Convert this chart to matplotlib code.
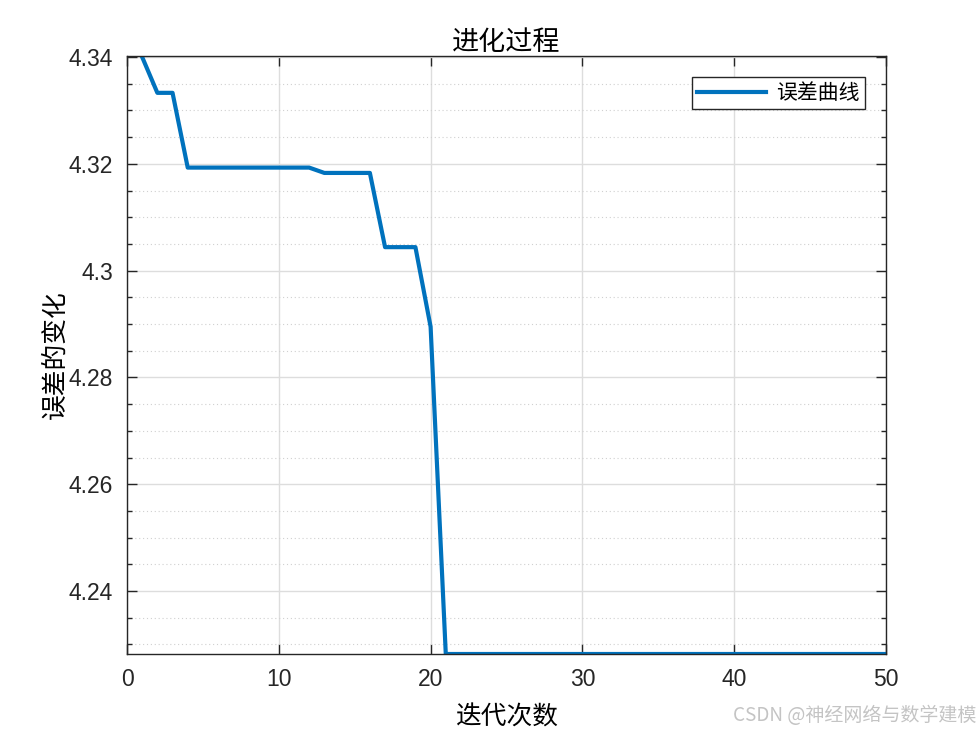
import matplotlib
matplotlib.use('Agg')
import matplotlib.pyplot as plt
from matplotlib.ticker import MultipleLocator

plt.rcParams['font.family'] = ['Liberation Sans', 'Noto Sans CJK SC', 'DejaVu Sans']

# iteration number and best error per iteration
iters = list(range(1, 51))
err = ([4.3400, 4.3333, 4.3333] + [4.3193] * 9 + [4.3183] * 4 +
       [4.3044] * 3 + [4.2895] + [4.2282] * 30)

title = '进化过程'
xlab = '迭代次数'
ylab = '误差的变化'
leg = '误差曲线'
cjk = ['Noto Sans CJK SC', 'DejaVu Sans']

fig = plt.figure(figsize=(9.8, 7.35), dpi=100)
ax = fig.add_axes([127/980, 1-654/735, (886-127)/980, (654-56)/735])

ax.plot(iters, err, color='#0072BD', lw=3, label=leg)

ax.set_xlim(0, 50)
ax.set_ylim(4.2282, 4.3402)
ax.xaxis.set_major_locator(MultipleLocator(10))
ax.yaxis.set_major_locator(MultipleLocator(0.02))
ax.yaxis.set_minor_locator(MultipleLocator(0.005))

def fmt(v, pos):
    s = '%.2f' % v
    return s.rstrip('0').rstrip('.')
ax.yaxis.set_major_formatter(plt.FuncFormatter(fmt))

ax.grid(which='major', color='#dddddd', lw=1)
ax.grid(which='minor', axis='y', color='#d0d0d0', lw=0.8, ls=(0, (1, 2.5)))
ax.tick_params(which='both', direction='in', top=True, right=True,
               labelsize=16.5, colors='#262626', width=1)
ax.tick_params(which='major', length=7, pad=10)
ax.tick_params(which='minor', length=3.5)
for s in ax.spines.values():
    s.set_color('#262626')
    s.set_linewidth(1)

ax.set_title(title, fontsize=19.5, family=cjk, pad=3)
ax.set_xlabel(xlab, fontsize=18.5, family=cjk, labelpad=10)
ax.set_ylabel(ylab, fontsize=18.5, family=cjk, labelpad=0)

lg = ax.legend(loc='upper right', prop={'family': cjk, 'size': 15},
               fancybox=False, edgecolor='#262626', framealpha=1,
               handlelength=3.3, borderaxespad=1.0, borderpad=0.25,
               handletextpad=0.5)
lg.get_frame().set_linewidth(1)

fig.text(0.996, 0.012, 'CSDN @神经网络与数学建模', ha='right', va='bottom',
         fontsize=13.7, color='#c4c4c4', family=cjk)

fig.savefig('out.png', dpi=100, facecolor='white')
